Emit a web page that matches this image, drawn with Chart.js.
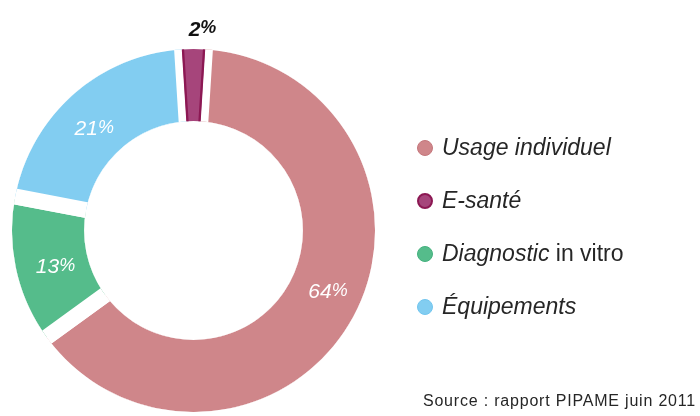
<!DOCTYPE html>
<html>
<head>
<meta charset="utf-8">
<script src="https://cdn.jsdelivr.net/npm/chart.js@4.4.1/dist/chart.umd.min.js"></script>
<style>
  html, body { margin: 0; padding: 0; background: #ffffff; }
  #wrap { position: relative; width: 700px; height: 416px; overflow: hidden;
          font-family: "Liberation Sans", Arial, sans-serif; }
  #c { position: absolute; left: 0; top: 0; }
  #legend { position: absolute; left: 417px; top: 0; margin: 0; padding: 0; list-style: none; }
  #legend li { position: absolute; left: 0; white-space: nowrap; font-size: 23px; line-height: 23px; color: #262626; }
  #legend .dot { position: absolute; left: 0; top: 4px; width: 16px; height: 16px; border-radius: 50%; box-sizing: border-box; }
  #legend .txt { position: absolute; left: 25px; top: 0; }
  #legend i { font-style: italic; }
  #source { position: absolute; right: 4px; top: 393px; font-size: 16px; line-height: 16px; color: #262626; letter-spacing: 0.8px; white-space: nowrap; }
</style>
</head>
<body>
<div id="wrap">
  <canvas id="c" width="700" height="416"></canvas>
  <ul id="legend"></ul>
  <div id="source"></div>
</div>
<script>
// ---- data (drawing order: clockwise, E-santé last so it sits centred at the top) ----
const categories = ['Usage individuel', 'Diagnostic in vitro', 'Équipements', 'E-santé'];
const values = [64, 13, 21, 2];
const valueLabels = ['64%', '13%', '21%', '2%'];
const legendOrder = [0, 3, 1, 2];
const legendItalicPart = ['Usage individuel', 'Diagnostic', 'Équipements', 'E-santé'];
const sourceText = 'Source : rapport PIPAME juin 2011';

// ---- styles ----
const GAP = 16;                                   // white separator width (px)
const fillColors   = ['#cf868a', '#55bc8b', '#82cdf1', '#a6457b'];
const borderColors = ['#ffffff', '#ffffff', '#ffffff', '#8c1853'];
const borderWidths = [GAP, GAP, GAP, 2];
const borderAligns = ['center', 'center', 'center', 'inner'];
const dotBorders   = ['#c4777c', '#44b17e', '#72c5ee', '#8c1853'];
const labelOutside = [false, false, false, true];
const labelColor   = ['#ffffff', '#ffffff', '#ffffff', '#111111'];
const labelWeight  = ['normal', 'normal', 'normal', 'bold'];
const labelSize    = [21, 21, 21, 21];
const labelNudge   = [[7, -10], [4, 3], [-3, 6], [9, 0]];

const total = values.reduce((a, b) => a + b, 0);
const eIndex = categories.indexOf('E-santé');

// keeps every slice inside the same ring (the white separators trim the ring by GAP/2)
const ringClip = {
  id: 'ringClip',
  beforeDatasetsDraw(chart) {
    const a = chart.getDatasetMeta(0).data[0];
    const ctx = chart.ctx;
    ctx.save();
    ctx.beginPath();
    ctx.arc(a.x, a.y, a.outerRadius - GAP / 2, 0, Math.PI * 2);
    ctx.arc(a.x, a.y, a.innerRadius + GAP / 2, 0, Math.PI * 2, true);
    ctx.clip();
  },
  afterDatasetsDraw(chart) {
    chart.ctx.restore();
  }
};

const labelPlugin = {
  id: 'sliceLabels',
  afterDraw(chart) {
    const ctx = chart.ctx;
    chart.getDatasetMeta(0).data.forEach((arc, i) => {
      const a = (arc.startAngle + arc.endAngle) / 2;
      const r = labelOutside[i] ? arc.outerRadius - GAP / 2 + 21 : (arc.innerRadius + arc.outerRadius) / 2;
      const x = arc.x + Math.cos(a) * r + labelNudge[i][0];
      const y = arc.y + Math.sin(a) * r + labelNudge[i][1];
      const txt = valueLabels[i];
      const num = txt.replace('%', '');
      const size = labelSize[i];
      const small = Math.round(size * 0.88);
      const fam = '"Liberation Sans", Arial, sans-serif';
      const fMain = 'italic ' + labelWeight[i] + ' ' + size + 'px ' + fam;
      const fSmall = 'italic ' + labelWeight[i] + ' ' + small + 'px ' + fam;
      ctx.save();
      ctx.fillStyle = labelColor[i];
      ctx.textBaseline = 'alphabetic';
      ctx.textAlign = 'left';
      ctx.font = fMain;
      const w1 = ctx.measureText(num).width;
      ctx.font = fSmall;
      const w2 = ctx.measureText('%').width;
      const x0 = x - (w1 + w2) / 2;
      const base = y + size * 0.716 / 2;
      ctx.font = fMain;
      ctx.fillText(num, x0, base);
      ctx.font = fSmall;
      ctx.fillText('%', x0 + w1, base - size * 0.716 + small * 0.716);
      ctx.restore();
    });
  }
};

const chart = new Chart(document.getElementById('c'), {
  type: 'doughnut',
  data: {
    labels: categories,
    datasets: [{
      data: values,
      backgroundColor: fillColors,
      borderColor: borderColors,
      borderWidth: borderWidths,
      borderAlign: borderAligns,
      borderJoinStyle: 'miter',
      hoverOffset: 0
    }]
  },
  options: {
    responsive: false,
    animation: false,
    events: [],
    rotation: (values[eIndex] / 2 / total) * 360,
    radius: 181.5 + GAP / 2,
    cutout: 103 - GAP / 2,
    layout: { padding: { left: 0, right: 313, top: 45, bottom: 0 } },
    plugins: { legend: { display: false }, tooltip: { enabled: false } }
  },
  plugins: [ringClip, labelPlugin]
});

// ---- HTML legend built from the chart data ----
const legendEl = document.getElementById('legend');
legendOrder.forEach((idx, row) => {
  const li = document.createElement('li');
  li.style.top = (148 + row * 53 - 12) + 'px';
  const dot = document.createElement('span');
  dot.className = 'dot';
  dot.style.background = fillColors[idx];
  dot.style.border = (idx === eIndex ? 2 : 1) + 'px solid ' + dotBorders[idx];
  const txt = document.createElement('span');
  txt.className = 'txt';
  const name = categories[idx];
  const it = legendItalicPart[idx];
  const iEl = document.createElement('i');
  iEl.textContent = it;
  txt.appendChild(iEl);
  if (name.length > it.length) txt.appendChild(document.createTextNode(name.slice(it.length)));
  li.appendChild(dot);
  li.appendChild(txt);
  legendEl.appendChild(li);
});
document.getElementById('source').textContent = sourceText;
</script>
</body>
</html>
